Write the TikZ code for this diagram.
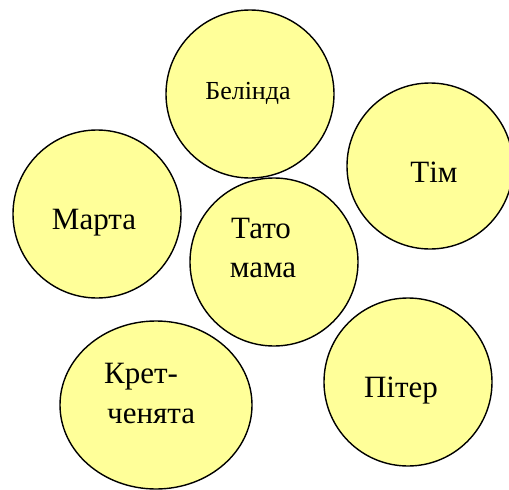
\documentclass[tikz,border=0pt]{standalone}
\usepackage{fontspec}
\setmainfont{Liberation Serif}
\usetikzlibrary{shapes.geometric}
\definecolor{blobfill}{HTML}{FFFF99}
\tikzset{
  blob/.style={draw=black, line width=1.4pt, fill=blobfill, circle, inner sep=0pt, minimum size=168pt},
  oval/.style={draw=black, line width=1.4pt, fill=blobfill, ellipse, inner sep=0pt, minimum width=192pt, minimum height=168pt},
  big/.style={font=\fontsize{31}{39}\selectfont, inner sep=0pt, anchor=base},
  small/.style={font=\fontsize{26}{32}\selectfont, inner sep=0pt, anchor=base}
}
\begin{document}
\begin{tikzpicture}[x=1pt,y=-1pt]
\useasboundingbox (0,0) rectangle (509,490);
\node[blob] (cB) at (250,94) {};
\node[blob, minimum size=166pt] (cT) at (430,166) {};
\node[blob] (cM) at (97,214) {};
\node[blob] (cP) at (274,262) {};
\node[oval] (cK) at (156,405) {};
\node[blob] (cR) at (408,382) {};
\node[small] (tB) at (248,99) {Белінда};
\node[big] (tT) at (434,182) {Тім};
\node[big] (tM) at (94,229) {Марта};
\node[big] (tP1) at (261,238) {Тато};
\node[big] (tP2) at (263,277) {мама};
\node[big, anchor=base west] (tK1) at (104,383) {Крет-};
\node[big, anchor=base west] (tK2) at (107,423) {ченята};
\node[big] (tR) at (401,397) {Пітер};
\end{tikzpicture}
\end{document}
